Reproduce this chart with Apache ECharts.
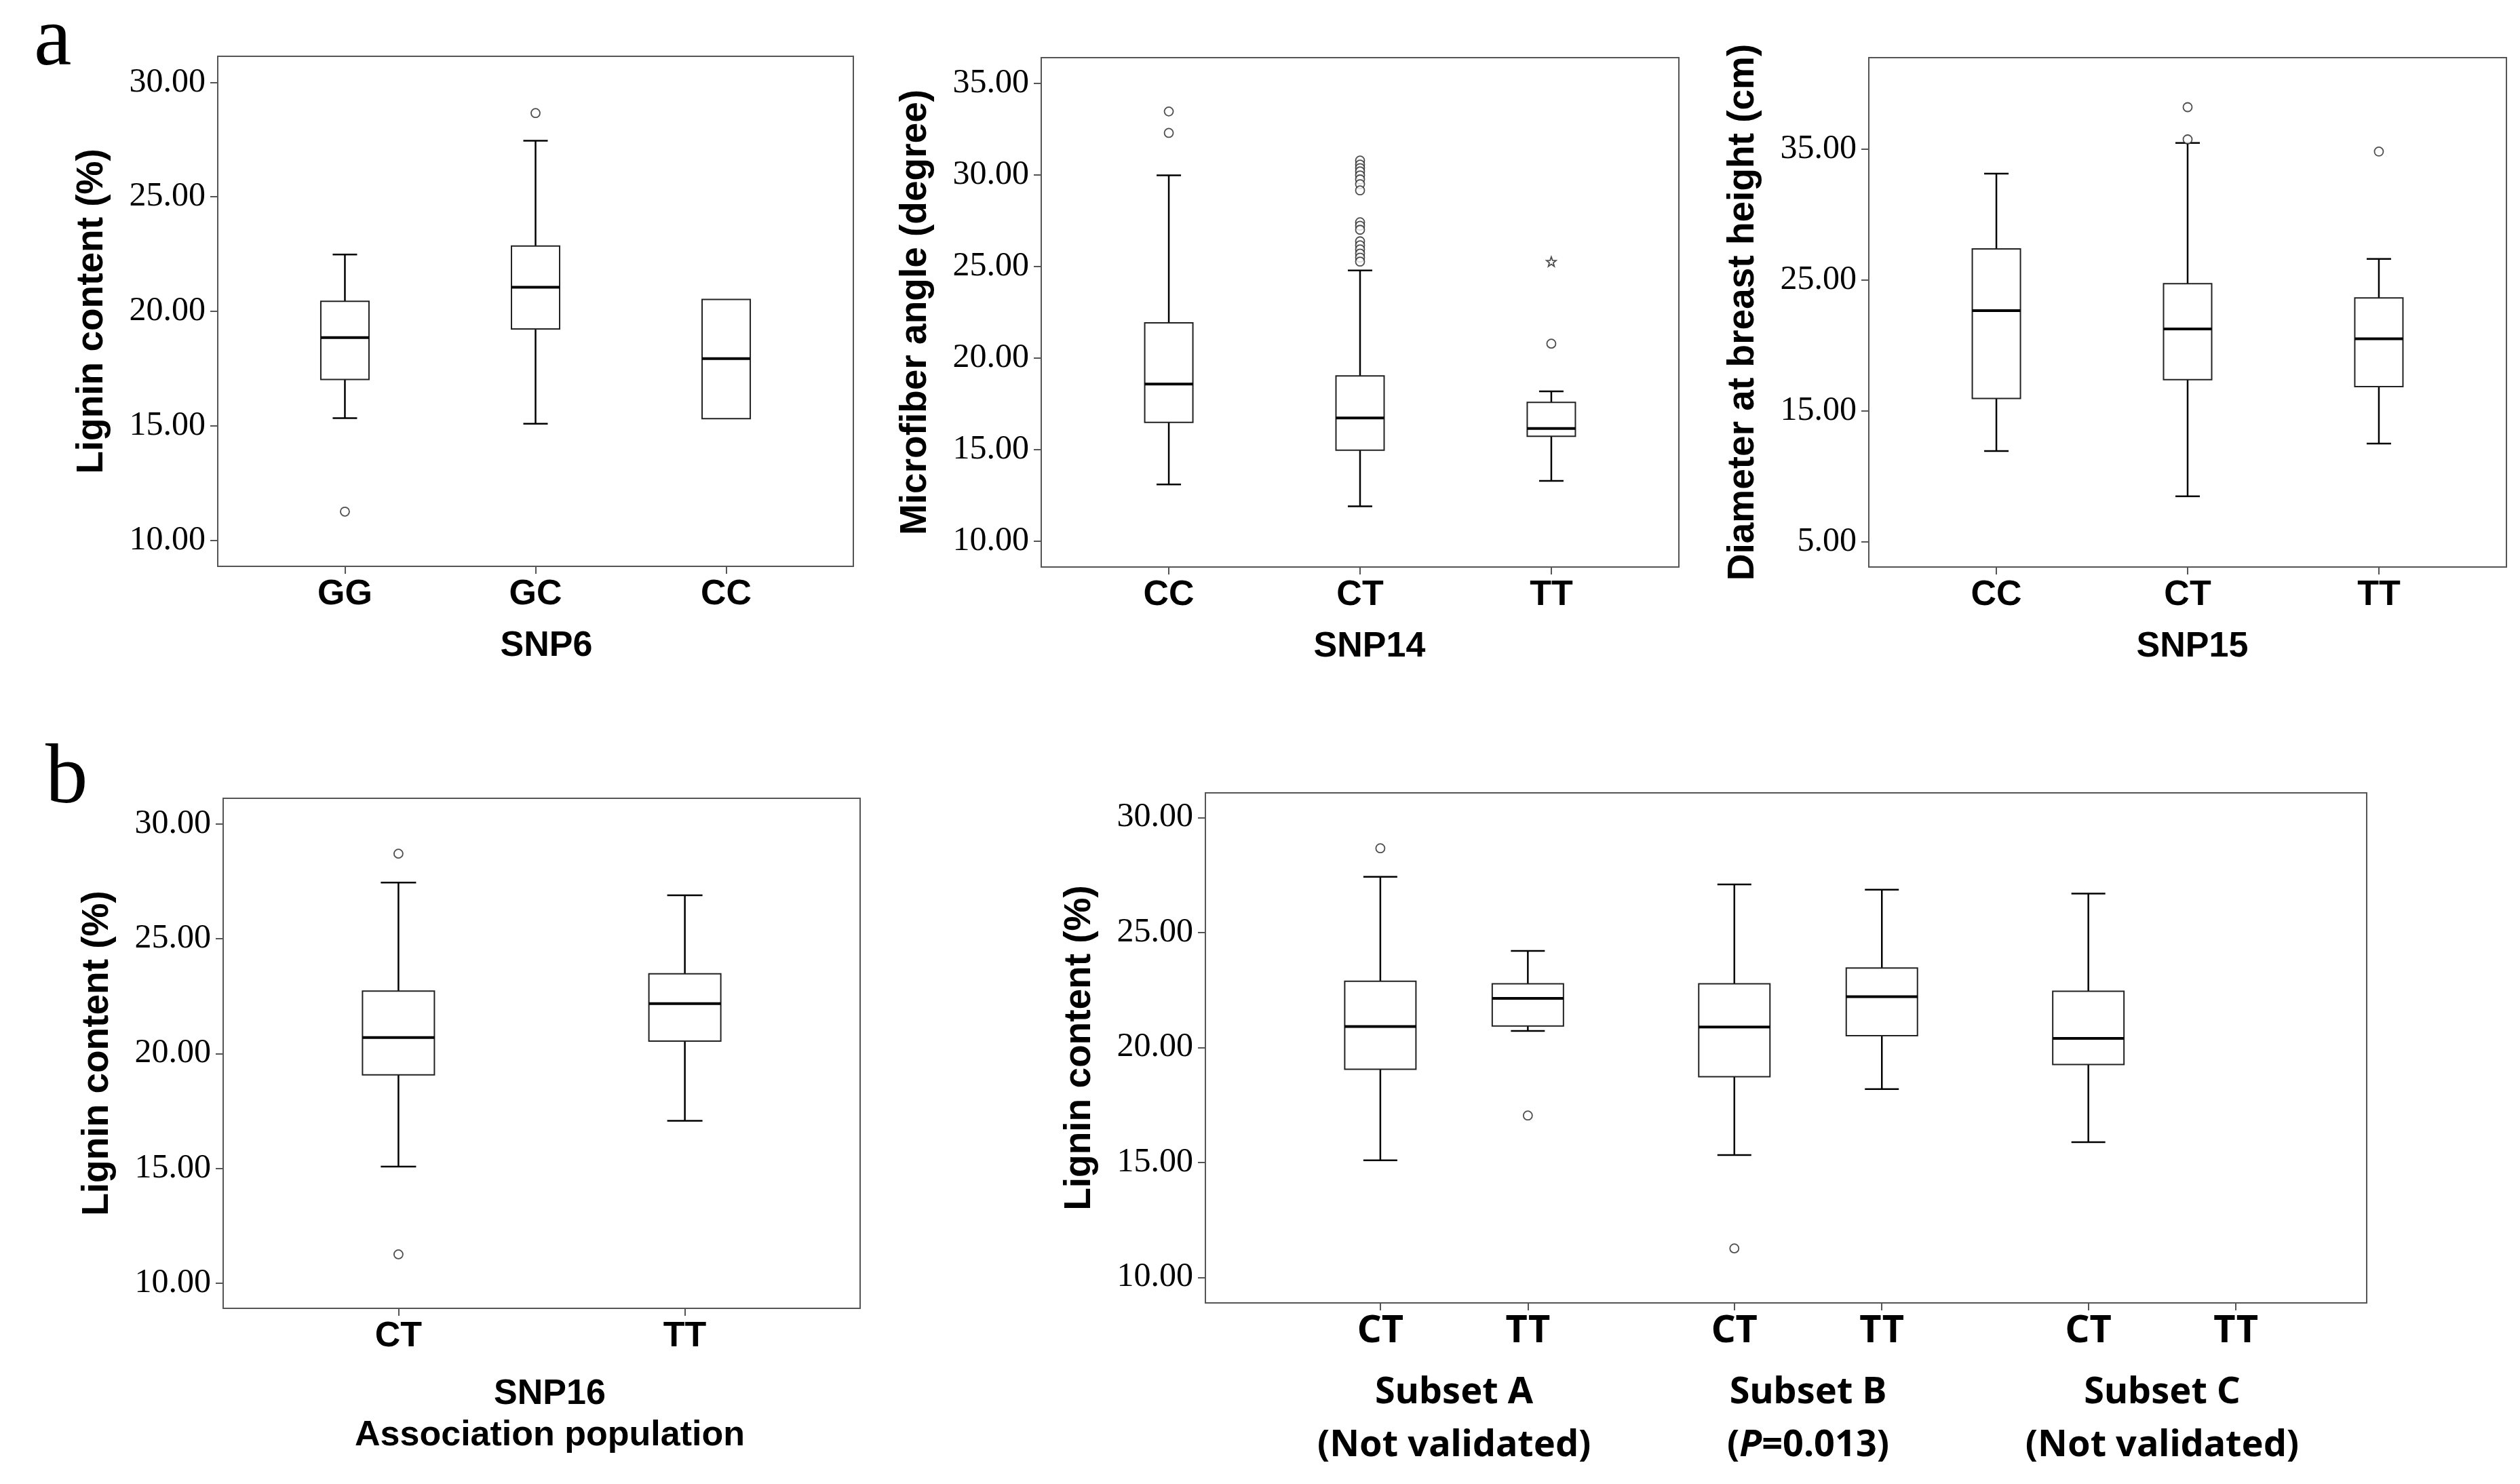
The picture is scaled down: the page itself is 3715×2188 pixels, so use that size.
<!DOCTYPE html>
<html>
<head>
<meta charset="utf-8">
<title>SNP genotype box plots</title>
<script src="https://cdn.jsdelivr.net/npm/echarts@6.0.0/dist/echarts.min.js"></script>
<style>
    html, body { margin: 0; padding: 0; background: #fff; }
    #chart { width: 3715px; height: 2188px; }
</style>
</head>
<body>
<div id="chart"></div>
<script>
// ---- data (box rows are: min, Q1, median, Q3, max) ----
const snp6Genotypes = ['GG', 'GC', 'CC'];
const snp6Lignin = [
    [15.33, 17.02, 18.85, 20.44, 22.48],
    [15.09, 19.23, 21.05, 22.85, 27.45],
    [15.31, 15.31, 17.93, 20.52, 20.52]
];
const snp6Outliers = [[0, 11.25], [1, 28.66]];
const ligninTicks = [10, 15, 20, 25, 30];

const snp14Genotypes = ['CC', 'CT', 'TT'];
const snp14Mfa = [
    [13.09, 16.48, 18.57, 21.92, 29.97],
    [11.90, 14.96, 16.72, 19.02, 24.78],
    [13.28, 15.72, 16.15, 17.57, 18.17]
];
const snp14Outliers = [
    [0, 33.46], [0, 32.29],
    [1, 30.78], [1, 30.56], [1, 30.37], [1, 30.19], [1, 29.97], [1, 29.75], [1, 29.49], [1, 29.15],
    [1, 27.41], [1, 27.22], [1, 27.00],
    [1, 26.37], [1, 26.15], [1, 25.93], [1, 25.70], [1, 25.48], [1, 25.26],
    [2, 20.78]
];
const snp14Extremes = [[2, 25.26]];
const mfaTicks = [10, 15, 20, 25, 30, 35];

const snp15Genotypes = ['CC', 'CT', 'TT'];
const snp15Dbh = [
    [11.93, 15.95, 22.65, 27.37, 33.11],
    [8.48, 17.38, 21.26, 24.71, 35.46],
    [12.50, 16.85, 20.50, 23.62, 26.60]
];
const snp15Outliers = [[1, 38.19], [1, 35.73], [2, 34.80]];
const dbhTicks = [5, 15, 25, 35];

const snp16Genotypes = ['CT', 'TT'];
const snp16Lignin = [
    [15.08, 19.07, 20.70, 22.72, 27.44],
    [17.07, 20.54, 22.17, 23.47, 26.89]
];
const snp16Outliers = [[0, 28.70], [0, 11.26]];

const subsetNames = ['Subset A', 'Subset B', 'Subset C'];
const subsetNotes = ['(Not validated)', '(P=0.013)', '(Not validated)'];
const subsetGenotypes = ['CT', 'TT'];
const subsetLignin = [
    [[15.09, 19.05, 20.91, 22.88, 27.42], [20.72, 20.93, 22.13, 22.77, 24.20]],
    [[15.32, 18.73, 20.89, 22.77, 27.09], [18.19, 20.51, 22.21, 23.45, 26.86]],
    [[15.88, 19.26, 20.39, 22.44, 26.69], null]
];
// subset, genotype, value
const subsetOutliers = [[0, 0, 28.66], [0, 1, 17.04], [1, 0, 11.26]];

// ---- layout ----
const GROUP_STEP = 2.4;
const FRAME = '#555';
const NUM_FONT = '"Liberation Serif", "DejaVu Serif", serif';
const BOLD_FONT = '"Liberation Sans", Arial, sans-serif';
const SUB_FONT = '"Noto Sans", "Liberation Sans", sans-serif';

const grids = [
    {left: 321, top: 83, width: 937, height: 752},
    {left: 1535, top: 85, width: 940, height: 751},
    {left: 2755, top: 85, width: 940, height: 751},
    {left: 329, top: 1177, width: 939, height: 752},
    {left: 1777, top: 1169, width: 1712, height: 752}
].map(g => Object.assign({show: true, borderColor: FRAME, borderWidth: 2,
    backgroundColor: '#fff', containLabel: false, outerBoundsMode: 'none'}, g));

function subsetPos(g, k) { return g * GROUP_STEP + k; }

function yAxis(idx, min, max, ticks, title) {
    return {
        type: 'value', gridIndex: idx, min: min, max: max,
        name: title, nameLocation: 'middle', nameGap: 158, nameMoveOverlap: false,
        nameTextStyle: {fontFamily: BOLD_FONT, fontWeight: 'bold', fontSize: 55, color: '#000'},
        axisLine: {show: true, onZero: false, lineStyle: {color: FRAME, width: 2}},
        axisTick: {show: true, length: 11, customValues: ticks, lineStyle: {color: FRAME, width: 2}},
        axisLabel: {customValues: ticks, margin: 18, color: '#000', fontFamily: NUM_FONT, fontSize: 50,
            formatter: v => v.toFixed(2)},
        splitLine: {show: false}
    };
}

function xAxis(idx, min, max, positions, names, title, extra) {
    return Object.assign({
        type: 'value', gridIndex: idx, min: min, max: max,
        name: title, nameLocation: 'middle', nameGap: 92, nameMoveOverlap: false,
        nameTextStyle: {fontFamily: BOLD_FONT, fontWeight: 'bold', fontSize: 52, color: '#000', lineHeight: 61},
        axisLine: {show: true, onZero: false, lineStyle: {color: FRAME, width: 2}},
        axisTick: {show: true, length: 11, customValues: positions, lineStyle: {color: FRAME, width: 2}},
        axisLabel: {customValues: positions, margin: 16, color: '#000', fontFamily: BOLD_FONT,
            fontWeight: 'bold', fontSize: 52,
            formatter: v => names[positions.findIndex(p => Math.abs(p - v) < 1e-6)]},
        splitLine: {show: false}
    }, extra || {});
}

function boxSeries(idx, rows, positions, boxW, capW) {
    const data = [];
    rows.forEach((r, i) => { if (r) data.push([positions[i]].concat(r)); });
    return {
        type: 'custom', xAxisIndex: idx, yAxisIndex: idx, clip: false, silent: true,
        encode: {x: 0, y: [1, 2, 3, 4, 5]},
        data: data,
        renderItem: function (params, api) {
            const x = api.value(0);
            const p = [1, 2, 3, 4, 5].map(d => api.coord([x, api.value(d)]));
            const cx = p[0][0];
            const yMin = p[0][1], yQ1 = p[1][1], yMed = p[2][1], yQ3 = p[3][1], yMax = p[4][1];
            const whisker = {stroke: '#000', lineWidth: 2.5};
            const kids = [];
            if (yQ3 - yMax > 0.5) {
                kids.push({type: 'line', shape: {x1: cx, y1: yMax, x2: cx, y2: yQ3}, style: whisker});
                kids.push({type: 'line', shape: {x1: cx - capW / 2, y1: yMax, x2: cx + capW / 2, y2: yMax}, style: whisker});
            }
            if (yMin - yQ1 > 0.5) {
                kids.push({type: 'line', shape: {x1: cx, y1: yQ1, x2: cx, y2: yMin}, style: whisker});
                kids.push({type: 'line', shape: {x1: cx - capW / 2, y1: yMin, x2: cx + capW / 2, y2: yMin}, style: whisker});
            }
            kids.push({type: 'rect', shape: {x: cx - boxW / 2, y: yQ3, width: boxW, height: yQ1 - yQ3},
                style: {fill: '#fff', stroke: '#222', lineWidth: 2}});
            kids.push({type: 'line', shape: {x1: cx - boxW / 2, y1: yMed, x2: cx + boxW / 2, y2: yMed},
                style: {stroke: '#000', lineWidth: 4}});
            return {type: 'group', children: kids};
        }
    };
}

function outlierSeries(idx, points, symbol, size) {
    return {
        type: 'scatter', xAxisIndex: idx, yAxisIndex: idx, silent: true, z: 3,
        symbol: symbol || 'circle', symbolSize: size || 13,
        itemStyle: {color: '#fff', borderColor: '#222', borderWidth: 1.8},
        data: points
    };
}

const idx3 = snp6Genotypes.map((g, i) => i);
const idx2 = snp16Genotypes.map((g, i) => i);
const subsetX = [];
const subsetLabels = [];
subsetNames.forEach((s, g) => subsetGenotypes.forEach((t, k) => {
    subsetX.push(subsetPos(g, k));
    subsetLabels.push(t);
}));
const subsetMid = subsetNames.map((s, g) => subsetPos(g, 0.5));

function richNote(s) {
    const m = s.match(/^\(P(=.*)$/);
    return m ? '{b|(}{i|P}{b|' + m[1] + '}' : '{b|' + s + '}';
}

const star = 'path://M0,-10L2.4,-3.3L9.5,-3.1L3.9,1.3L5.9,8.1L0,4.1L-5.9,8.1L-3.9,1.3L-9.5,-3.1L-2.4,-3.3Z';

const option = {
    backgroundColor: '#fff',
    animation: false,
    grid: grids,
    graphic: [
        {type: 'text', left: 50, top: 0, style: {text: 'a', font: '125px "Liberation Serif", serif', fill: '#000'}},
        {type: 'text', left: 67, top: 1088, style: {text: 'b', font: '125px "Liberation Serif", serif', fill: '#000'}}
    ],
    xAxis: [
        xAxis(0, -0.667, 2.667, idx3, snp6Genotypes, 'SNP6', {nameTextStyle: {fontFamily: BOLD_FONT,
            fontWeight: 'bold', fontSize: 52, color: '#000', padding: [0, 0, 0, 32]}}),
        xAxis(1, -0.667, 2.667, idx3, snp14Genotypes, 'SNP14', {nameTextStyle: {fontFamily: BOLD_FONT,
            fontWeight: 'bold', fontSize: 52, color: '#000', padding: [0, 0, 0, 28]}}),
        xAxis(2, -0.667, 2.667, idx3, snp15Genotypes, 'SNP15', {nameTextStyle: {fontFamily: BOLD_FONT,
            fontWeight: 'bold', fontSize: 52, color: '#000', padding: [0, 0, 0, 14]}}),
        xAxis(3, -0.612, 1.612, idx2, snp16Genotypes, 'SNP16\nAssociation population', {nameGap: 96,
            nameTextStyle: {fontFamily: BOLD_FONT, fontWeight: 'bold', fontSize: 52, color: '#000',
                lineHeight: 61, padding: [0, 0, 0, 24]}}),
        xAxis(4, -1.186, 6.687, subsetX, subsetLabels, '', {axisLabel: {customValues: subsetX, margin: 14,
            color: '#000', fontFamily: SUB_FONT, fontWeight: 'bold', fontSize: 56,
            formatter: v => subsetLabels[subsetX.findIndex(p => Math.abs(p - v) < 1e-6)]}}),
        {
            type: 'value', gridIndex: 4, min: -1.186, max: 6.687, position: 'bottom',
            axisLine: {show: false, onZero: false}, axisTick: {show: false}, splitLine: {show: false},
            axisLabel: {
                customValues: subsetMid, margin: 94,
                formatter: (v) => {
                    const g = subsetMid.findIndex(p => Math.abs(p - v) < 1e-6);
                    return '{b|' + subsetNames[g] + '}\n' + richNote(subsetNotes[g]);
                },
                rich: {
                    b: {fontFamily: SUB_FONT, fontWeight: 'bold', fontSize: 54, lineHeight: 78, color: '#000'},
                    i: {fontFamily: SUB_FONT, fontWeight: 'bold', fontStyle: 'italic', fontSize: 54, lineHeight: 78, color: '#000'}
                }
            }
        }
    ],
    yAxis: [
        yAxis(0, 8.86, 31.14, ligninTicks, 'Lignin content (%)'),
        yAxis(1, 8.58, 36.40, mfaTicks, 'Microfiber angle (degree)'),
        yAxis(2, 3.08, 41.97, dbhTicks, 'Diameter at breast height (cm)'),
        yAxis(3, 8.91, 31.11, ligninTicks, 'Lignin content (%)'),
        yAxis(4, 8.89, 31.07, ligninTicks, 'Lignin content (%)')
    ],
    series: [
        boxSeries(0, snp6Lignin, idx3, 71, 36),
        outlierSeries(0, snp6Outliers),
        boxSeries(1, snp14Mfa, idx3, 71, 36),
        outlierSeries(1, snp14Outliers),
        outlierSeries(1, snp14Extremes, star, 14),
        boxSeries(2, snp15Dbh, idx3, 71, 36),
        outlierSeries(2, snp15Outliers),
        boxSeries(3, snp16Lignin, idx2, 106, 52),
        outlierSeries(3, snp16Outliers),
        boxSeries(4, [].concat.apply([], subsetLignin), subsetX, 105, 50),
        outlierSeries(4, subsetOutliers.map(o => [subsetPos(o[0], o[1]), o[2]]))
    ]
};

const chart = echarts.init(document.getElementById('chart'));
chart.setOption(option);
</script>
</body>
</html>
